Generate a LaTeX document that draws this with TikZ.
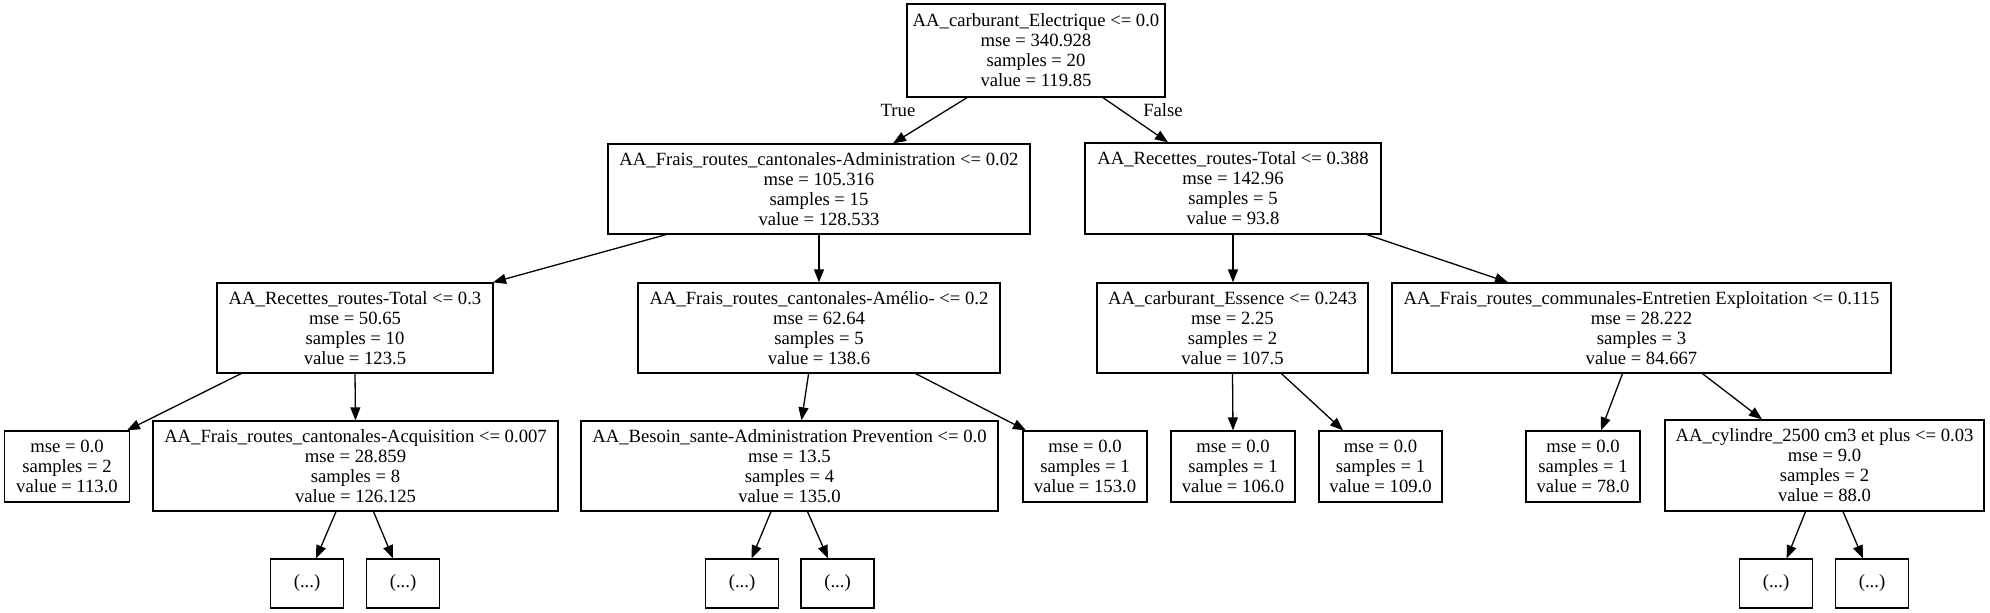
\documentclass[tikz,border=0pt]{standalone}
\usepackage{fontspec}
\setmainfont{Liberation Serif}
\usetikzlibrary{arrows.meta}
\begin{document}
\begin{tikzpicture}[x=1pt,y=-1pt,
  box/.style={draw, line width=1.3pt, align=center, inner sep=0pt, font=\fontsize{18.67}{20}\selectfont},
  edge/.style={draw, line width=1.3pt, -{Triangle[length=13pt,width=10pt]}},
  elabel/.style={font=\fontsize{18.67}{20}\selectfont, inner sep=0pt}]
\useasboundingbox (0,0) rectangle (1990,613);
% level 1
\node[box, minimum width=258pt, minimum height=93pt] (root) at (1036,50.5)
 {AA\_carburant\_Electrique <= 0.0\\mse = 340.928\\samples = 20\\value = 119.85};
% level 2
\node[box, minimum width=422pt, minimum height=90pt] (admin) at (819,189)
 {AA\_Frais\_routes\_cantonales-Administration <= 0.02\\mse = 105.316\\samples = 15\\value = 128.533};
\node[box, minimum width=296pt, minimum height=91pt] (rec388) at (1233,188.5)
 {AA\_Recettes\_routes-Total <= 0.388\\mse = 142.96\\samples = 5\\value = 93.8};
% level 3
\node[box, minimum width=276pt, minimum height=90pt] (rec03) at (355,328)
 {AA\_Recettes\_routes-Total <= 0.3\\mse = 50.65\\samples = 10\\value = 123.5};
\node[box, minimum width=362pt, minimum height=90pt] (amelio) at (819,328)
 {AA\_Frais\_routes\_cantonales-Amélio- <= 0.2\\mse = 62.64\\samples = 5\\value = 138.6};
\node[box, minimum width=271pt, minimum height=90pt] (essence) at (1232.5,328)
 {AA\_carburant\_Essence <= 0.243\\mse = 2.25\\samples = 2\\value = 107.5};
\node[box, minimum width=499pt, minimum height=90pt] (entretien) at (1641.5,328)
 {AA\_Frais\_routes\_communales-Entretien Exploitation <= 0.115\\mse = 28.222\\samples = 3\\value = 84.667};
% level 4
\node[box, minimum width=125pt, minimum height=71pt] (l113) at (67,466.5)
 {mse = 0.0\\samples = 2\\value = 113.0};
\node[box, minimum width=405pt, minimum height=90pt] (acq) at (355.5,466)
 {AA\_Frais\_routes\_cantonales-Acquisition <= 0.007\\mse = 28.859\\samples = 8\\value = 126.125};
\node[box, minimum width=417pt, minimum height=90pt] (besoin) at (789.5,466)
 {AA\_Besoin\_sante-Administration Prevention <= 0.0\\mse = 13.5\\samples = 4\\value = 135.0};
\node[box, minimum width=124pt, minimum height=71pt] (l153) at (1085,466.5)
 {mse = 0.0\\samples = 1\\value = 153.0};
\node[box, minimum width=124pt, minimum height=71pt] (l106) at (1233,466.5)
 {mse = 0.0\\samples = 1\\value = 106.0};
\node[box, minimum width=123pt, minimum height=71pt] (l109) at (1380.5,466.5)
 {mse = 0.0\\samples = 1\\value = 109.0};
\node[box, minimum width=114pt, minimum height=71pt] (l78) at (1583,466.5)
 {mse = 0.0\\samples = 1\\value = 78.0};
\node[box, minimum width=319pt, minimum height=91pt] (cyl) at (1824.5,465.5)
 {AA\_cylindre\_2500 cm3 et plus <= 0.03\\mse = 9.0\\samples = 2\\value = 88.0};
% level 5
\node[box, minimum width=73pt, minimum height=49pt] (d1) at (307,583.5) {(...)};
\node[box, minimum width=73pt, minimum height=49pt] (d2) at (403,583.5) {(...)};
\node[box, minimum width=73pt, minimum height=49pt] (d3) at (742,583.5) {(...)};
\node[box, minimum width=73pt, minimum height=49pt] (d4) at (837.5,583.5) {(...)};
\node[box, minimum width=73pt, minimum height=49pt] (d5) at (1776,583.5) {(...)};
\node[box, minimum width=73pt, minimum height=49pt] (d6) at (1872,583.5) {(...)};
% edges
\draw[edge] ([xshift=-69pt]root.south) -- ([xshift=74pt]admin.north);
\draw[edge] ([xshift=67pt]root.south) -- ([xshift=-65pt]rec388.north);
\node[elabel] (ltrue) at (898,110) {True};
\node[elabel] (lfalse) at (1163,110) {False};
\draw[edge] ([xshift=-153pt]admin.south) -- ([xshift=138pt]rec03.north);
\draw[edge] (admin.south) -- (amelio.north);
\draw[edge] (rec388.south) -- ([xshift=0.5pt]essence.north);
\draw[edge] ([xshift=134pt]rec388.south) -- ([xshift=-133.5pt]entretien.north);
\draw[edge] ([xshift=-114pt]rec03.south) -- ([xshift=60pt]l113.north);
\draw[edge] (rec03.south) -- (acq.north);
\draw[edge] ([xshift=-10.4pt]amelio.south) -- ([xshift=12pt]besoin.north);
\draw[edge] ([xshift=96.7pt]amelio.south) -- ([xshift=-59pt]l153.north);
\draw[edge] (essence.south) -- (l106.north);
\draw[edge] ([xshift=49pt]essence.south) -- ([xshift=-37.5pt]l109.north);
\draw[edge] ([xshift=-19pt]entretien.south) -- ([xshift=18pt]l78.north);
\draw[edge] ([xshift=61pt]entretien.south) -- ([xshift=-62.5pt]cyl.north);
\draw[edge] ([xshift=-19.5pt]acq.south) -- ([xshift=9pt]d1.north);
\draw[edge] ([xshift=18pt]acq.south) -- ([xshift=-10pt]d2.north);
\draw[edge] ([xshift=-18.5pt]besoin.south) -- ([xshift=9.6pt]d3.north);
\draw[edge] ([xshift=18pt]besoin.south) -- ([xshift=-9.5pt]d4.north);
\draw[edge] ([xshift=-19pt]cyl.south) -- ([xshift=10.7pt]d5.north);
\draw[edge] ([xshift=18.5pt]cyl.south) -- ([xshift=-9pt]d6.north);
\end{tikzpicture}
\end{document}
